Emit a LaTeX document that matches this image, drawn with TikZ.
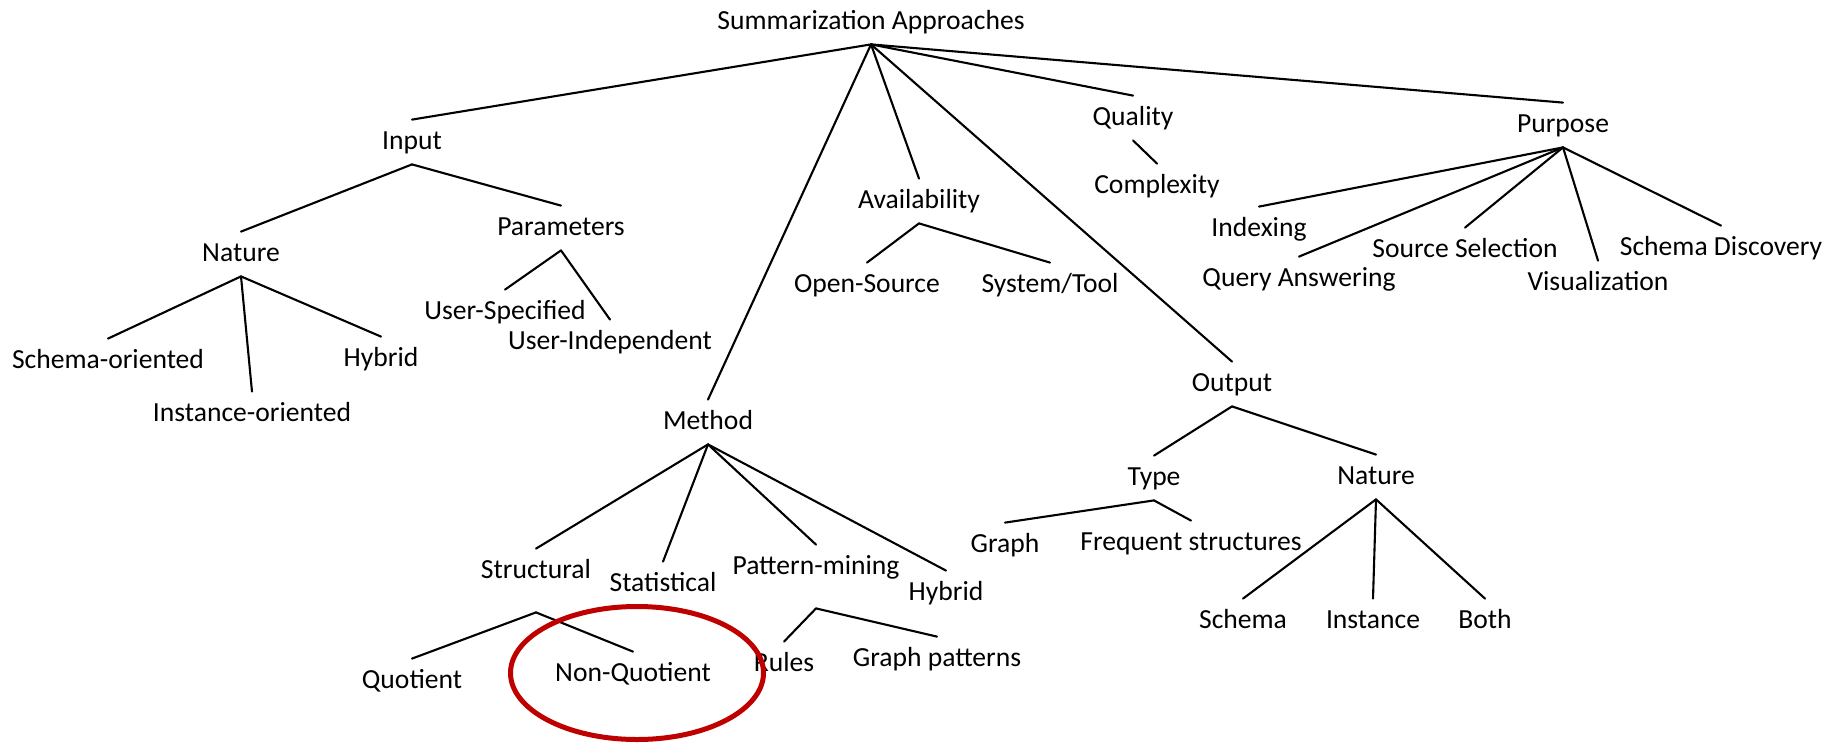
\documentclass[tikz,border=0pt]{standalone}
\usepackage{fontspec}
\setmainfont{Carlito}
\begin{document}
\begin{tikzpicture}[x=0.5pt,y=-0.5pt,
  lbl/.style={font=\fontsize{13.8}{16}\selectfont, inner sep=0pt, text height=9.5pt, text depth=3.2pt},
  edge/.style={line width=1.05pt, line cap=round},
  apex/.style={yshift=-4.15pt},
  deepapex/.style={yshift=-13.65pt},
  tip/.style={yshift=5.15pt},
  mark ring/.style={draw=red!75!black, line width=2.5pt}]
\useasboundingbox (0,0) rectangle (1830,744);

% root
\node[lbl] (root) at (871,23) {Summarization Approaches};

% Input branch
\node[lbl] (input) at (412,143) {Input};
\node[lbl] (nature) at (241,255) {Nature};
\node[lbl] (params) at (561,229) {Parameters};
\node[lbl] (schemaor) at (108,362) {Schema-oriented};
\node[lbl] (instor) at (252,415) {Instance-oriented};
\node[lbl] (hybrid1) at (381,360) {Hybrid};
\node[lbl] (userspec) at (505,313) {User-Specified};
\node[lbl] (userindep) at (610,343) {User-Independent};

% Method branch
\node[lbl] (method) at (708,423) {Method};
\node[lbl] (structural) at (536,572) {Structural};
\node[lbl] (statistical) at (663,585) {Statistical};
\node[lbl] (patmin) at (816,568) {Pattern-mining};
\node[lbl] (hybrid2) at (946,594) {Hybrid};
\node[lbl] (quotient) at (412,682) {Quotient};
\node[lbl] (nonquot) at (633,675) {Non-Quotient};
\node[lbl] (rules) at (784,665) {Rules};
\node[lbl] (gpatterns) at (937,660) {Graph patterns};

% Availability branch
\node[lbl] (avail) at (919,202) {Availability};
\node[lbl] (opensrc) at (867,286) {Open-Source};
\node[lbl] (systool) at (1050,286) {System/Tool};

% Quality branch
\node[lbl] (quality) at (1133,119) {Quality};
\node[lbl] (complexity) at (1157,187) {Complexity};

% Output branch
\node[lbl] (output) at (1232,385) {Output};
\node[lbl] (type) at (1154,479) {Type};
\node[lbl] (onature) at (1376,478) {Nature};
\node[lbl] (graph) at (1005,546) {Graph};
\node[lbl] (freq) at (1191,544) {Frequent structures};
\node[lbl] (oschema) at (1243,622) {Schema};
\node[lbl] (oinst) at (1373,622) {Instance};
\node[lbl] (both) at (1485,622) {Both};

% Purpose branch
\node[lbl] (purpose) at (1563,126) {Purpose};
\node[lbl] (indexing) at (1259,230) {Indexing};
\node[lbl] (query) at (1299,280) {Query Answering};
\node[lbl] (source) at (1465,251) {Source Selection};
\node[lbl] (visual) at (1598,284) {Visualization};
\node[lbl] (schemadisc) at (1721,249) {Schema Discovery};

% connectors
\foreach \p/\c in {root/input, root/method, root/avail, root/output, root/quality, root/purpose,
  input/nature, input/params, nature/schemaor, nature/instor, nature/hybrid1,
  params/userspec, params/userindep,
  method/structural, method/statistical, method/patmin, method/hybrid2,
  avail/opensrc, avail/systool, quality/complexity,
  output/type, output/onature, type/graph, type/freq,
  onature/oschema, onature/oinst, onature/both,
  purpose/indexing, purpose/query, purpose/source, purpose/visual, purpose/schemadisc}
  \draw[edge] ([apex]\p.south) -- ([tip]\c.north);

\foreach \p/\c in {structural/quotient, structural/nonquot, patmin/rules, patmin/gpatterns}
  \draw[edge] ([deepapex]\p.south) -- ([tip]\c.north);

% highlight ring
\draw[mark ring] (637,673) ellipse [x radius=63.25pt, y radius=33.25pt];
\end{tikzpicture}
\end{document}
